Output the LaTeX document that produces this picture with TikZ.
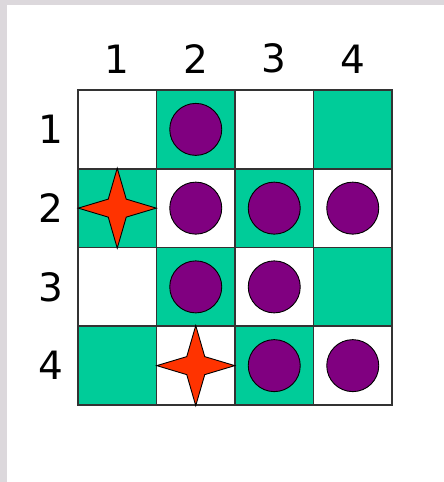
\documentclass[tikz,border=0pt]{standalone}
\usepackage{fontspec}
\setmainfont{DejaVu Sans}
\usetikzlibrary{positioning,calc}
\definecolor{boardgreen}{HTML}{00CC99}
\definecolor{piecepurple}{HTML}{800080}
\definecolor{starred}{HTML}{FF3300}
\definecolor{framegray}{HTML}{DCD8DC}
\tikzset{
  cellbox/.style={draw=black!80, line width=1.4pt, minimum size=78.5pt, inner sep=0pt, fill=white},
  greencell/.style={cellbox, fill=boardgreen},
  piece/.style={circle, draw=black, line width=0.9pt, fill=piecepurple, minimum size=52pt, inner sep=0pt},
  starpath/.style={draw=black, line width=0.9pt, fill=starred, line join=miter},
  idxlabel/.style={font=\fontsize{39}{44}\selectfont, inner sep=0pt},
}

\begin{document}
\begin{tikzpicture}[x=1pt, y=-1pt]
  % page and grey frame
  \fill[framegray] (0,0) rectangle (444,482);
  \fill[white] (7,5) rectangle (444,482);
  \useasboundingbox (0,0) rectangle (444,482);
  % board cells
  \foreach \r in {1,...,4} {
    \foreach \c in {1,...,4} {
      \pgfmathtruncatemacro{\odd}{mod(\r+\c,2)}
      \ifnum\odd=1
        \node[greencell] (c\r\c) at ({78+78.5*(\c-0.5)}, {90+78.75*(\r-0.5)}) {};
      \else
        \node[cellbox] (c\r\c) at ({78+78.5*(\c-0.5)}, {90+78.75*(\r-0.5)}) {};
      \fi
    }
  }
  % column and row numbers
  \foreach \c in {1,...,4}
    \node[idxlabel, above=16pt of c1\c] (col\c) {\c};
  \foreach \r in {1,...,4}
    \node[idxlabel, left=14pt of c\r1] (row\r) {\r};
  % purple pieces
  \foreach \p in {12,22,23,24,32,33,43,44}
    \node[piece] (p\p) at (c\p) {};
  % stars
  \foreach \s in {21,42}
    \draw[starpath] ($(c\s)+(39,0)$) -- ($(c\s)+(9,9)$) -- ($(c\s)+(0,40)$)
      -- ($(c\s)+(-9,9)$) -- ($(c\s)+(-39,0)$) -- ($(c\s)+(-9,-9)$)
      -- ($(c\s)+(0,-40)$) -- ($(c\s)+(9,-9)$) -- cycle;
\end{tikzpicture}
\end{document}
